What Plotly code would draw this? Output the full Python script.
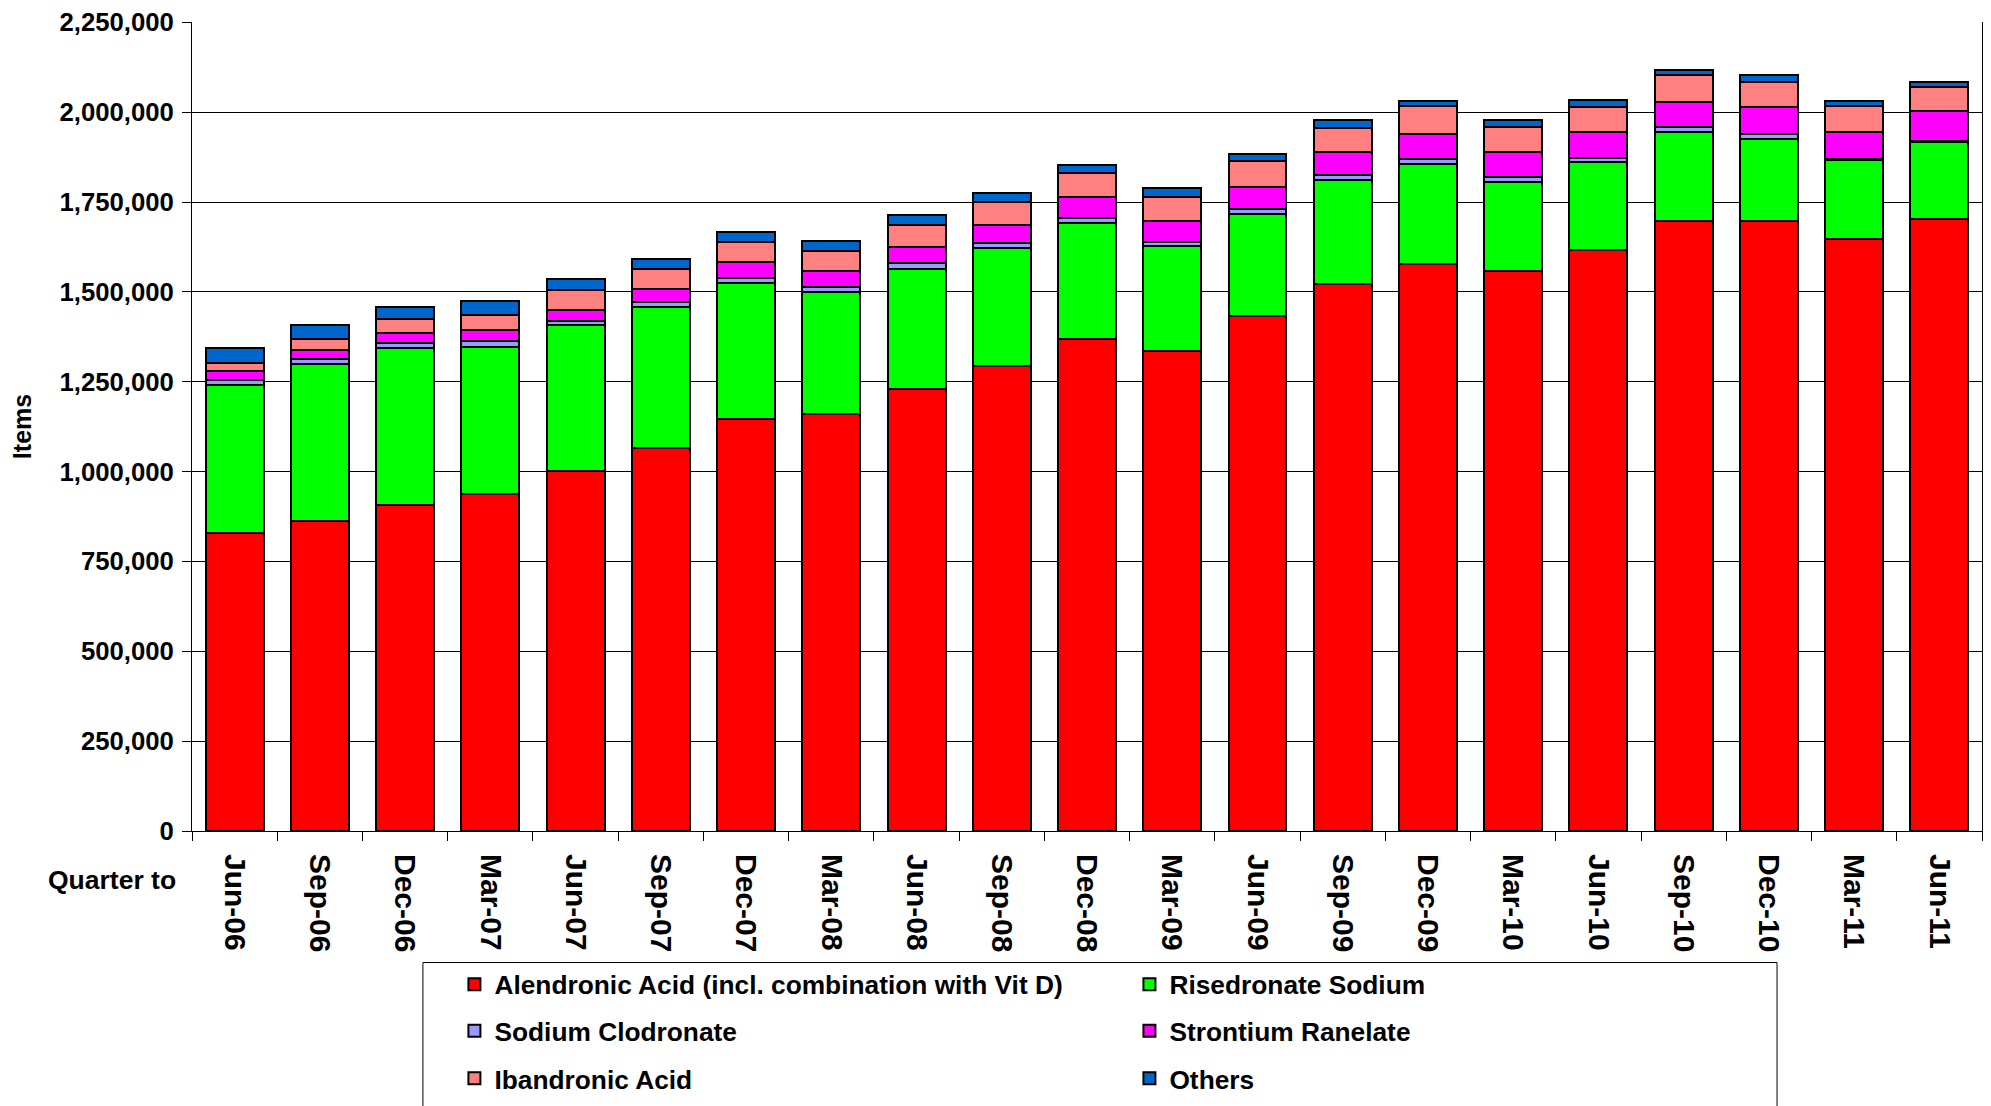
#######
# Stacked bar chart: quarterly prescription items for osteoporosis drugs
# (bisphosphonates and others), quarters to Jun-06 .. Jun-11
#######

import plotly.graph_objs as go

# x categories
quarters = ['Jun-06', 'Sep-06', 'Dec-06', 'Mar-07', 'Jun-07', 'Sep-07', 'Dec-07',
            'Mar-08', 'Jun-08', 'Sep-08', 'Dec-08', 'Mar-09', 'Jun-09', 'Sep-09',
            'Dec-09', 'Mar-10', 'Jun-10', 'Sep-10', 'Dec-10', 'Mar-11', 'Jun-11']

# series values (items)
alendronic = [829000, 863000, 906000, 938000, 1002000, 1065000, 1147000,
              1160000, 1230000, 1294000, 1370000, 1336000, 1432000, 1522000,
              1578000, 1559000, 1616000, 1698000, 1698000, 1648000, 1704000]
risedronate = [412000, 437000, 438000, 410000, 405000, 392000, 379000,
               341000, 335000, 327000, 322000, 293000, 284000, 290000,
               279000, 246000, 246000, 248000, 228000, 220000, 214000]
clodronate = [13000, 13000, 14000, 15000, 13000, 15000, 14000,
              13000, 15000, 16000, 14000, 10000, 14000, 12000,
              13000, 14000, 11000, 12000, 13000, 2000, 2000]
strontium = [25000, 26000, 29000, 31000, 31000, 37000, 44000,
             44000, 44000, 50000, 57000, 58000, 63000, 64000,
             70000, 69000, 71000, 71000, 76000, 76000, 83000]
ibandronic = [24000, 29000, 37000, 43000, 54000, 55000, 56000,
              56000, 63000, 62000, 67000, 68000, 70000, 69000,
              76000, 70000, 70000, 74000, 69000, 70000, 67000]
others = [40000, 40000, 35000, 39000, 32000, 28000, 28000,
          28000, 27000, 26000, 23000, 23000, 20000, 21000,
          15000, 21000, 19000, 15000, 20000, 14000, 15000]

y_ticks = [0, 250000, 500000, 750000, 1000000, 1250000, 1500000,
           1750000, 2000000, 2250000]

# name, values, colour, which legend row it sits in
series = [
    ('Alendronic Acid (incl. combination with Vit D)', alendronic, '#FF0000', 'legend'),
    ('Risedronate Sodium', risedronate, '#00FF00', 'legend'),
    ('Sodium Clodronate', clodronate, '#9999FF', 'legend2'),
    ('Strontium Ranelate', strontium, '#FF00FF', 'legend2'),
    ('Ibandronic Acid', ibandronic, '#FF8080', 'legend3'),
    ('Others', others, '#0066CC', 'legend3'),
]

font = dict(family='Liberation Sans, Arial, sans-serif', color='black', weight='bold')

data = [go.Bar(
    x=quarters
    , y=vals
    , name=name
    , legend=leg
    , marker=dict(color=col, line=dict(color='black', width=2))
) for name, vals, col, leg in series]


def legend_row(y):
    # one horizontal legend per row, so the rows can be spaced like the original
    return dict(
        orientation='h'
        , x=0.1466, xanchor='left'
        , y=y, yanchor='middle'
        , entrywidth=630
        , font=dict(font, size=26.3)
        , borderwidth=0
        , bgcolor='rgba(0,0,0,0)'
        , traceorder='normal'
    )


layout = go.Layout(
    width=1983
    , height=1098
    , barmode='stack'
    , bargap=0.32
    , plot_bgcolor='white'
    , paper_bgcolor='white'
    , font=dict(font, size=26)
    , margin=dict(l=184, r=9, t=14, b=275, autoexpand=False)
    , xaxis=dict(
        type='category'
        , automargin=False
        , tickangle=90
        , tickfont=dict(font, size=30)
        , ticklabelstandoff=16
        , showline=True, linecolor='black', linewidth=1
        , ticks='outside', ticklen=9, tickcolor='black'
        , tickson='boundaries'
        , showgrid=False
    )
    , yaxis=dict(
        range=[0, 2251000]
        , automargin=False
        , tickvals=y_ticks
        , tickformat=',d'
        , tickfont=dict(font, size=25.7)
        , ticks='outside', ticklen=9, tickcolor='black'
        , ticklabelstandoff=3
        , showline=True, mirror=True, linecolor='black', linewidth=1
        , showgrid=True, gridcolor='black', gridwidth=1
        , zeroline=False
        , title=dict(text='Items', font=dict(font, size=25), standoff=22)
    )
    , legend=legend_row(-0.1899)
    , legend2=legend_row(-0.2474)
    , legend3=legend_row(-0.3062)
    # legend frame, running off the bottom edge as in the original
    , shapes=[dict(
        type='rect', xref='paper', yref='paper'
        , x0=0.129, x1=0.8855, y0=-0.1626, y1=-0.36
        , line=dict(color='black', width=1)
        , fillcolor='rgba(0,0,0,0)'
        , layer='below'
    )]
    , annotations=[dict(
        text='Quarter to'
        , xref='paper', yref='paper'
        , x=-0.008, y=-0.060
        , xanchor='right', yanchor='middle'
        , showarrow=False
        , font=dict(font, size=26.5)
    )]
)

fig = go.Figure(data=data, layout=layout)
fig.write_html('out.html')
